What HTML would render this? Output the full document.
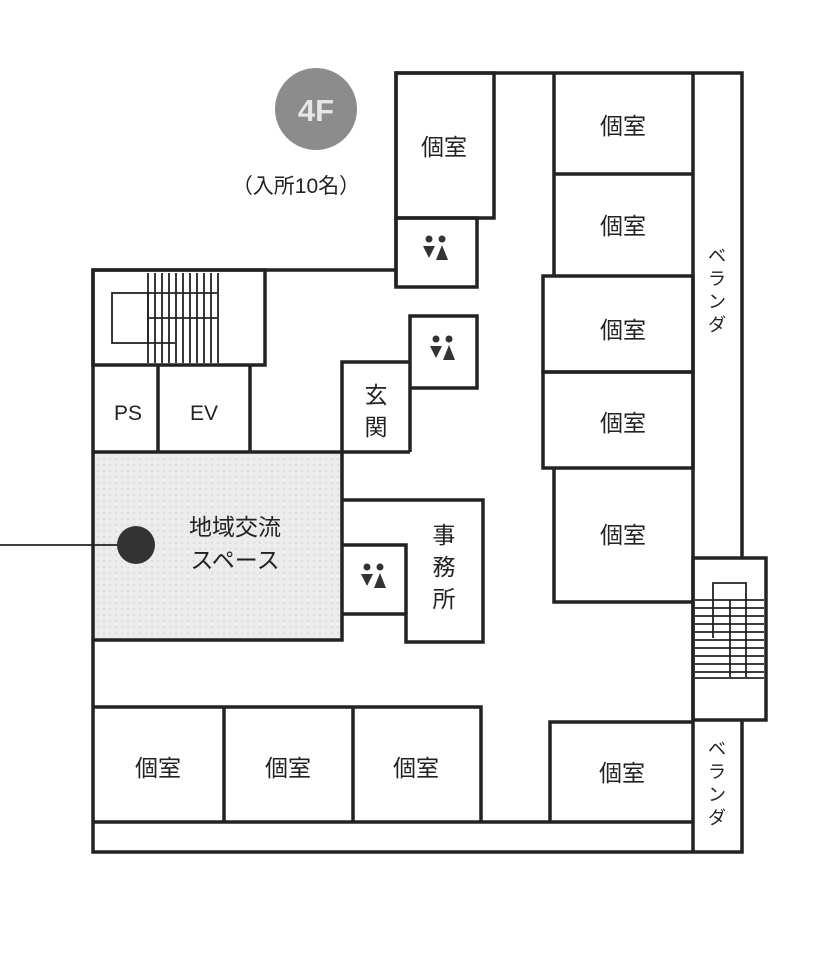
<!DOCTYPE html>
<html><head><meta charset="utf-8"><style>
html,body{margin:0;padding:0;background:#fff;}
svg{display:block;}
text{font-family:"Liberation Sans","Noto Sans CJK JP",sans-serif;fill:#222;}
</style></head><body>
<svg width="840" height="969" viewBox="0 0 840 969" xmlns="http://www.w3.org/2000/svg">
<defs>
<pattern id="dots" width="6" height="6" patternUnits="userSpaceOnUse">
<rect width="6" height="6" fill="#ececec"/><circle cx="2" cy="3" r="0.7" fill="#c8c8c8"/>
</pattern>
</defs>
<rect x="93" y="452" width="249" height="188" fill="url(#dots)"/>
<g fill="none" stroke="#222" stroke-width="3.5">
<polyline points="396,270 93,270 93,852 742,852 742,720"/>
<polyline points="396,287 396,73 742,73 742,558"/>
<rect x="693" y="558" width="73" height="162"/>
<line x1="693" y1="73" x2="693" y2="852"/>
<rect x="396" y="73" width="98" height="145"/>
<rect x="396" y="218" width="81" height="69"/>
<line x1="554" y1="73" x2="554" y2="276"/>
<line x1="554" y1="174" x2="693" y2="174"/>
<rect x="543" y="276" width="150" height="96"/>
<rect x="543" y="372" width="150" height="96"/>
<polyline points="554,468 554,602 693,602"/>
<rect x="93" y="270" width="172" height="95"/>
<line x1="93" y1="452" x2="410" y2="452"/>
<line x1="158" y1="365" x2="158" y2="452"/>
<line x1="250" y1="365" x2="250" y2="452"/>
<polyline points="410,362 342,362 342,640 93,640"/>
<polyline points="410,452 410,316 477,316 477,388 410,388"/>
<polyline points="342,500 483,500 483,642 406,642 406,614 342,614"/>
<polyline points="342,545 406,545 406,614"/>
<polyline points="93,707 481,707 481,822"/>
<line x1="93" y1="822" x2="693" y2="822"/>
<line x1="224" y1="707" x2="224" y2="822"/>
<line x1="353" y1="707" x2="353" y2="822"/>
<polyline points="550,822 550,722 693,722"/>
</g>
<g fill="none" stroke="#222" stroke-width="1.8">
<rect x="112" y="293" width="36" height="50"/>
<line x1="148" y1="293" x2="217" y2="293"/>
<line x1="148" y1="318" x2="217" y2="318"/>
<line x1="148" y1="343" x2="175" y2="343"/>
<g>
<line x1="148" y1="273" x2="148" y2="363"/><line x1="155" y1="273" x2="155" y2="363"/>
<line x1="162" y1="273" x2="162" y2="363"/><line x1="169" y1="273" x2="169" y2="363"/>
<line x1="176" y1="273" x2="176" y2="363"/><line x1="183" y1="273" x2="183" y2="363"/>
<line x1="190" y1="273" x2="190" y2="363"/><line x1="197" y1="273" x2="197" y2="363"/>
<line x1="204" y1="273" x2="204" y2="363"/><line x1="211" y1="273" x2="211" y2="363"/>
<line x1="218" y1="273" x2="218" y2="363"/>
</g>
<polyline points="713,638 713,583 746,583 746,677"/>
<line x1="730" y1="600" x2="730" y2="677"/>
<line x1="695" y1="600" x2="764" y2="600"/><line x1="695" y1="608" x2="764" y2="608"/>
<line x1="695" y1="616" x2="764" y2="616"/><line x1="695" y1="624" x2="764" y2="624"/>
<line x1="695" y1="632" x2="764" y2="632"/><line x1="695" y1="640" x2="764" y2="640"/>
<line x1="695" y1="648" x2="764" y2="648"/><line x1="695" y1="656" x2="764" y2="656"/>
<line x1="695" y1="664" x2="764" y2="664"/><line x1="695" y1="672" x2="764" y2="672"/>
<line x1="695" y1="678" x2="764" y2="678"/>
<line x1="0" y1="545" x2="120" y2="545"/>
</g>
<circle cx="136" cy="545" r="19" fill="#333"/>
<circle cx="316" cy="109" r="41" fill="#8c8c8c"/>
<text x="316" y="121" font-size="31" font-weight="bold" text-anchor="middle" style="fill:#e6e6e6">4F</text>
<text x="296" y="193" font-size="21" text-anchor="middle">（入所10名）</text>
<g font-size="23" text-anchor="middle">
<text x="444" y="155">個室</text>
<text x="623" y="134">個室</text>
<text x="623" y="234">個室</text>
<text x="623" y="338">個室</text>
<text x="623" y="431">個室</text>
<text x="623" y="543">個室</text>
<text x="158" y="776">個室</text>
<text x="288" y="776">個室</text>
<text x="416" y="776">個室</text>
<text x="622" y="781">個室</text>
<text x="128" y="420" font-size="21">PS</text>
<text x="204" y="420" font-size="21">EV</text>
<text x="376" y="403">玄</text>
<text x="376" y="435">関</text>
<text x="444" y="543">事</text>
<text x="444" y="575">務</text>
<text x="444" y="607">所</text>
<text x="235" y="535">地域交流</text>
<text x="235" y="568">スペース</text>
</g>
<g font-size="18" text-anchor="middle">
<text x="717" y="262">ベ</text><text x="717" y="285">ラ</text><text x="717" y="308">ン</text><text x="717" y="331">ダ</text>
<text x="717" y="755">ベ</text><text x="717" y="778">ラ</text><text x="717" y="801">ン</text><text x="717" y="824">ダ</text>
</g>
<g fill="#333">
<g transform="translate(436,252)">
<circle cx="-7" cy="-13" r="3.5"/><circle cx="6" cy="-13" r="3.5"/>
<polygon points="-13,-6 -1,-6 -7,6"/><polygon points="6,-7 0,8 12,8"/>
</g>
<g transform="translate(443,352)">
<circle cx="-7" cy="-13" r="3.5"/><circle cx="6" cy="-13" r="3.5"/>
<polygon points="-13,-6 -1,-6 -7,6"/><polygon points="6,-7 0,8 12,8"/>
</g>
<g transform="translate(374,580)">
<circle cx="-7" cy="-13" r="3.5"/><circle cx="6" cy="-13" r="3.5"/>
<polygon points="-13,-6 -1,-6 -7,6"/><polygon points="6,-7 0,8 12,8"/>
</g>
</g>
</svg>
</body></html>
